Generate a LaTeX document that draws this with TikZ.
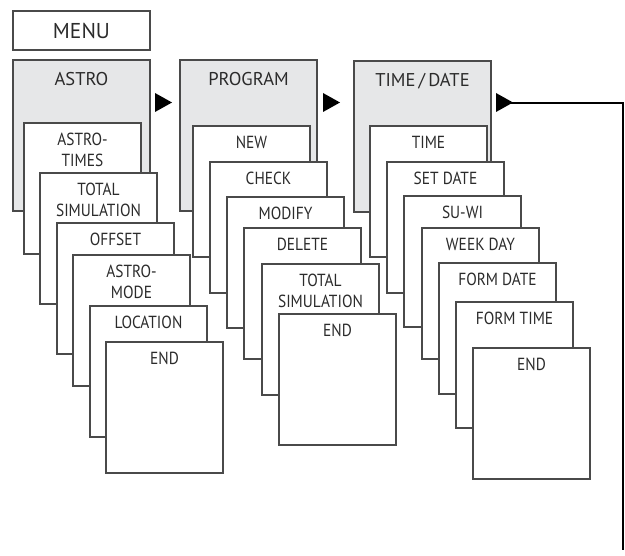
\documentclass[tikz,border=0pt]{standalone}
\usepackage{fontspec}
\setmainfont{PT Sans}
\newfontfamily\narrowfont[FakeStretch=0.88]{PT Sans}
\definecolor{boxline}{HTML}{4A4A4A}
\definecolor{greyfill}{HTML}{E6E7E8}
\definecolor{txt}{HTML}{2B2B2B}
\begin{document}
\begin{tikzpicture}[x=1pt,y=-1pt,
  box/.style={draw=boxline, fill=white, line width=1.2pt, anchor=north west,
    minimum width=117, minimum height=131, inner sep=0pt, outer sep=0pt},
  head/.style={box, fill=greyfill, minimum width=137, minimum height=151},
  lab/.style={anchor=north, text=txt, font=\narrowfont\fontsize{17.5}{20.5}\selectfont, align=center, inner sep=0pt, yshift=-10},
  hlab/.style={lab, font=\fontsize{18.5}{21}\selectfont, yshift=-2},
  tri/.style={fill=black},
  conn/.style={draw=black, line width=2pt}]
\useasboundingbox (0,0) rectangle (625,556);

% MENU
\node[box, minimum width=137, minimum height=39] (menu) at (13,11) {};
\node[lab, font=\fontsize{21.5}{24}\selectfont, yshift=-2] (menut) at (menu.north) {MENU};

% ASTRO column
\node[head] (astro) at (13,60) {};
\node[hlab] (astrot) at (astro.north) {ASTRO};
\node[box] (a1) at (24,123) {};
\node[lab] (a1t) at (a1.north) {ASTRO-\\TIMES};
\node[box] (a2) at (40,173) {};
\node[lab] (a2t) at (a2.north) {TOTAL\\SIMULATION};
\node[box] (a3) at (57,223) {};
\node[lab] (a3t) at (a3.north) {OFFSET};
\node[box] (a4) at (73,255) {};
\node[lab] (a4t) at (a4.north) {ASTRO-\\MODE};
\node[box] (a5) at (90,306) {};
\node[lab] (a5t) at (a5.north) {LOCATION};
\node[box] (a6) at (106,342) {};
\node[lab] (a6t) at (a6.north) {END};

% PROGRAM column
\node[head] (prog) at (180,60) {};
\node[hlab] (progt) at (prog.north) {PROGRAM};
\node[box] (p1) at (193,126) {};
\node[lab] (p1t) at (p1.north) {NEW};
\node[box] (p2) at (210,162) {};
\node[lab] (p2t) at (p2.north) {CHECK};
\node[box] (p3) at (227,197) {};
\node[lab] (p3t) at (p3.north) {MODIFY};
\node[box] (p4) at (244,228) {};
\node[lab] (p4t) at (p4.north) {DELETE};
\node[box] (p5) at (262,264) {};
\node[lab] (p5t) at (p5.north) {TOTAL\\SIMULATION};
\node[box] (p6) at (279,314) {};
\node[lab] (p6t) at (p6.north) {END};

% TIME/DATE column
\node[head] (td) at (354,61) {};
\node[hlab] (tdt) at (td.north) {TIME\,/\,DATE};
\node[box] (d1) at (370,126) {};
\node[lab] (d1t) at (d1.north) {TIME};
\node[box] (d2) at (387,162) {};
\node[lab] (d2t) at (d2.north) {SET DATE};
\node[box] (d3) at (404,196) {};
\node[lab] (d3t) at (d3.north) {SU-WI};
\node[box] (d4) at (422,228) {};
\node[lab] (d4t) at (d4.north) {WEEK DAY};
\node[box] (d5) at (439,263) {};
\node[lab] (d5t) at (d5.north) {FORM DATE};
\node[box, minimum height=126] (d6) at (456,302) {};
\node[lab] (d6t) at (d6.north) {FORM TIME};
\node[box] (d7) at (473,348) {};
\node[lab] (d7t) at (d7.north) {END};

% arrow marks
\fill[tri] (155,93) -- (172,102.5) -- (155,112) -- cycle;
\fill[tri] (323,93) -- (340,102.5) -- (323,112) -- cycle;
\fill[tri] (496,93) -- (513,102.5) -- (496,112) -- cycle;
\coordinate (t3) at (510,103);
\coordinate (loopend) at (623,550);
\draw[conn] (t3) -- (t3 -| loopend) -- (loopend);
\end{tikzpicture}
\end{document}
